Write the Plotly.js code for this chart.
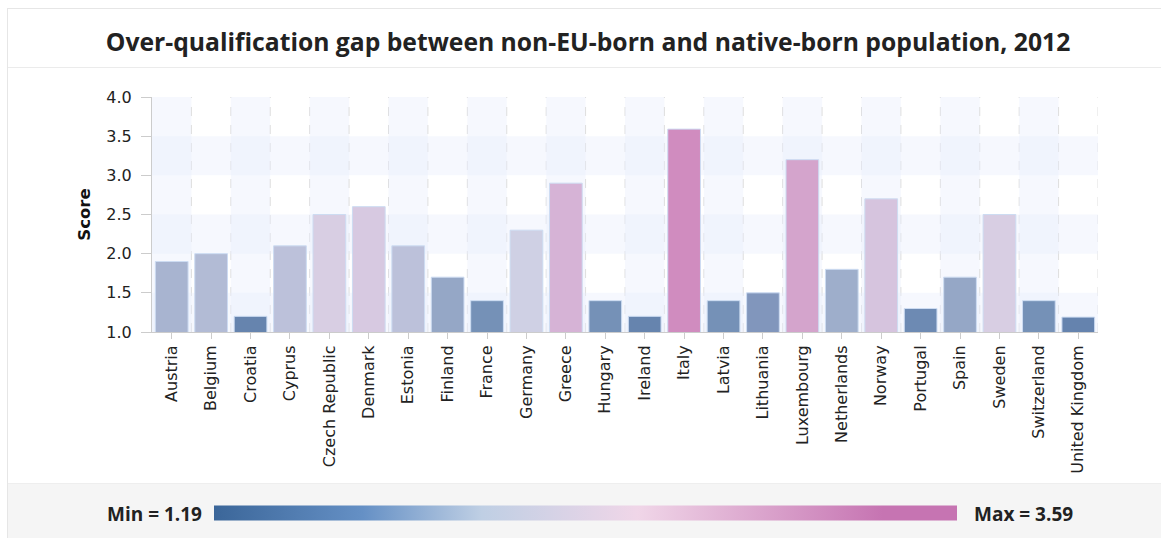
<!DOCTYPE html>
<html>
<head>
<meta charset="utf-8">
<script src="https://cdn.plot.ly/plotly-3.0.1.min.js"></script>
<style>
    html, body { margin: 0; padding: 0; background: #fff; width: 1161px; height: 538px; overflow: hidden; }
    .card { position: absolute; left: 7px; top: 8px; width: 1170px; height: 540px; border: 1px solid #e6e6e6; box-sizing: border-box; }
    .card-head { position: absolute; left: 8px; top: 67px; width: 1160px; height: 1px; background: #ebebeb; }
    .card-foot { position: absolute; left: 8px; top: 483px; width: 1160px; height: 60px; background: #f5f5f5; border-top: 1px solid #eeeeee; }
    #chart-gap { position: absolute; left: 0; top: 0; width: 1161px; height: 538px; }
</style>
</head>
<body>
<div class="card"></div>
<div class="card-head"></div>
<div class="card-foot"></div>
<div id="chart-gap"></div>
<script type="text/javascript">
    var countries = ['Austria', 'Belgium', 'Croatia', 'Cyprus', 'Czech Republic', 'Denmark', 'Estonia',
        'Finland', 'France', 'Germany', 'Greece', 'Hungary', 'Ireland', 'Italy', 'Latvia', 'Lithuania',
        'Luxembourg', 'Netherlands', 'Norway', 'Portugal', 'Spain', 'Sweden', 'Switzerland', 'United Kingdom'];
    var scores = [1.9, 2.0, 1.2, 2.1, 2.5, 2.6, 2.1,
        1.7, 1.4, 2.3, 2.9, 1.4, 1.2, 3.59, 1.4, 1.5,
        3.2, 1.8, 2.7, 1.3, 1.7, 2.5, 1.4, 1.19];
    var yTicks = [1.0, 1.5, 2.0, 2.5, 3.0, 3.5, 4.0];

    var minScore = Math.min.apply(null, scores);
    var maxScore = Math.max.apply(null, scores);

    // scale shown in the legend strip
    var legendScale = [
        [0, '#3b6699'],
        [0.2, '#6590c5'],
        [0.36, '#bfcfe4'],
        [0.57, '#f0d6e8'],
        [0.9, '#c674b2'],
        [1, '#c674b2']
    ];
    // bars are drawn a bit washed out
    var barScale = [
        [0, '#6583ae'],
        [0.09, '#7591b7'],
        [0.13, '#8196bc'],
        [0.21, '#94a7c6'],
        [0.3, '#a9b5d0'],
        [0.38, '#bcc1da'],
        [0.46, '#cfd0e4'],
        [0.55, '#d8cee3'],
        [0.63, '#d6c4de'],
        [0.71, '#d6b3d6'],
        [0.84, '#d4a4cc'],
        [1, '#d08cbf']
    ];

    var trace1 = {
        x: countries,
        y: scores,
        type: 'bar',
        marker: {
            color: scores,
            colorscale: barScale,
            cmin: minScore,
            cmax: maxScore,
            line: { color: 'rgba(205,220,242,1)', width: 1 },
            showscale: false,
        },
        hoverinfo: 'skip',
    };

    // invisible copy of the data, only there to carry the colour strip
    var trace2 = {
        x: countries,
        y: scores,
        type: 'scatter',
        mode: 'markers',
        marker: {
            opacity: 0,
            color: scores,
            colorscale: legendScale,
            cmin: minScore,
            cmax: maxScore,
            showscale: true,
            colorbar: {
                orientation: 'h',
                xref: 'container',
                yref: 'container',
                x: 263 / 1161,
                xanchor: 'left',
                y: 25 / 538,
                yanchor: 'middle',
                len: 743,
                lenmode: 'pixels',
                thickness: 15,
                thicknessmode: 'pixels',
                xpad: 0,
                ypad: 0,
                outlinewidth: 0,
                ticks: '',
                showticklabels: false,
            },
        },
        hoverinfo: 'skip',
    };

    // background bands and dashed separators
    var shapes = [];
    countries.forEach(function (c, i) {
        if (i % 2 === 0) {
            shapes.push({
                type: 'rect', layer: 'below', xref: 'x', yref: 'paper',
                x0: i - 0.5, x1: i + 0.5, y0: 0, y1: 1,
                fillcolor: 'rgba(232,238,252,0.4)', line: { width: 0 },
            });
        }
        shapes.push({
            type: 'line', layer: 'below', xref: 'x', yref: 'paper',
            x0: i + 0.5, x1: i + 0.5, y0: 0, y1: 1,
            line: { color: '#dedede', width: 1, dash: 'dash' },
        });
    });
    for (var k = 0; k < yTicks.length - 1; k += 2) {
        shapes.push({
            type: 'rect', layer: 'below', xref: 'paper', yref: 'y',
            x0: 0, x1: 1, y0: yTicks[k], y1: yTicks[k + 1],
            fillcolor: 'rgba(232,238,252,0.4)', line: { width: 0 },
        });
    }

    var tickFont = { family: 'DejaVu Sans, Verdana, sans-serif', size: 16, color: '#222' };
    var boldFont = { family: 'Open Sans', size: 19, color: '#222', weight: 'bold' };

    var layout = {
        width: 1161,
        height: 538,
        autosize: false,
        paper_bgcolor: 'rgba(0,0,0,0)',
        plot_bgcolor: 'rgba(0,0,0,0)',
        showlegend: false,
        bargap: 0.17,
        hovermode: false,
        font: { family: 'DejaVu Sans', size: 14, color: '#333' },
        title: {
            text: 'Over-qualification gap between non-EU-born and native-born population, 2012',
            font: { family: 'Open Sans', size: 24.7, color: '#222', weight: 'bold' },
            xref: 'container',
            yref: 'container',
            x: 588 / 1161,
            xanchor: 'center',
            y: 1 - 42 / 538,
            yanchor: 'middle',
        },
        margin: { l: 152, r: 63, t: 97, b: 206 },
        xaxis: {
            type: 'category',
            range: [-0.5, countries.length - 0.5],
            tickangle: -90,
            ticks: 'outside',
            ticklen: 6,
            tickcolor: '#cccccc',
            showline: true,
            linecolor: '#cccccc',
            showgrid: false,
            zeroline: false,
            tickfont: tickFont,
        },
        yaxis: {
            range: [1, 4],
            tickvals: yTicks,
            tickformat: '.1f',
            ticks: 'outside',
            ticklen: 10,
            tickcolor: '#cccccc',
            ticklabelstandoff: 6,
            showline: true,
            linecolor: '#cccccc',
            showgrid: false,
            zeroline: false,
            tickfont: tickFont,
            title: {
                text: 'Score',
                font: { family: 'DejaVu Sans', size: 16.5, color: '#111', weight: 'bold' },
                standoff: 11,
            },
        },
        shapes: shapes,
        annotations: [
            {
                text: 'Min = ' + minScore.toFixed(2),
                xref: 'paper', yref: 'paper',
                x: (204 - 152) / 946, xanchor: 'right',
                y: (332 - 514) / 235, yanchor: 'middle',
                showarrow: false,
                font: boldFont,
            },
            {
                text: 'Max = ' + maxScore.toFixed(2),
                xref: 'paper', yref: 'paper',
                x: (972 - 152) / 946, xanchor: 'left',
                y: (332 - 514) / 235, yanchor: 'middle',
                showarrow: false,
                font: boldFont,
            },
        ],
    };

    Plotly.newPlot(document.getElementById('chart-gap'), [trace1, trace2], layout, { displayModeBar: false, staticPlot: true });
</script>
</body>
</html>
